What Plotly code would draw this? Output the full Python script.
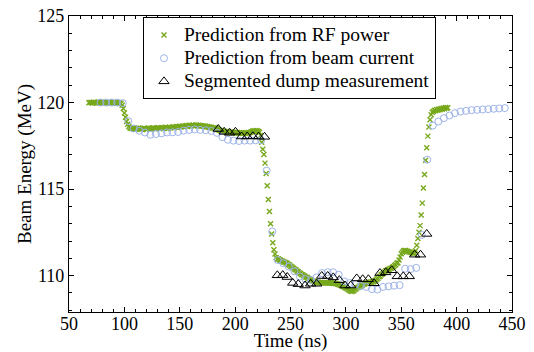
import plotly.graph_objects as go

# ---------------- data ----------------
# Prediction from RF power: one sample per ns, t = 68 .. 391 ns
rf_start = 68
rf_energy = [
    119.99, 120.01,
    120.00, 119.97, 120.02, 119.99, 120.01, 119.96, 120.00, 120.03, 119.98, 120.00,
    119.97, 120.01, 119.99, 120.02, 119.96, 120.00, 119.98, 120.01, 119.97, 119.99,
    120.02, 119.98, 120.00, 119.96, 120.01, 119.99, 119.97,
    119.94, 119.85, 119.65, 119.40, 119.15, 118.90, 118.75, 118.62, 118.55, 118.50,
    118.52, 118.48, 118.50, 118.46, 118.51, 118.47, 118.53, 118.49, 118.45, 118.50,
    118.47, 118.52, 118.48, 118.44, 118.50, 118.53, 118.47, 118.51, 118.49, 118.54,
    118.50, 118.47, 118.53, 118.51, 118.55, 118.49, 118.52, 118.56, 118.50, 118.54,
    118.57, 118.52, 118.55, 118.51, 118.58, 118.54, 118.56, 118.60, 118.55, 118.58,
    118.61, 118.57, 118.60, 118.63, 118.58, 118.62, 118.65, 118.60, 118.64, 118.67,
    118.62, 118.66, 118.69, 118.64, 118.67, 118.70, 118.65, 118.68, 118.71, 118.66,
    118.69, 118.65, 118.68, 118.63, 118.66, 118.61, 118.64, 118.60, 118.62, 118.57,
    118.59, 118.55, 118.57, 118.52, 118.54, 118.49, 118.50, 118.46, 118.43, 118.40,
    118.37, 118.35, 118.32, 118.34, 118.30, 118.33, 118.29, 118.31, 118.27, 118.30,
    118.26, 118.29, 118.25, 118.28, 118.24, 118.27, 118.23, 118.26, 118.22, 118.25,
    118.21, 118.24, 118.22, 118.26, 118.23, 118.27, 118.25, 118.29, 118.32, 118.35,
    118.37, 118.34, 118.38, 118.35, 118.33, 118.28,
    118.10, 117.70, 117.30, 117.00, 116.50, 115.90, 115.20, 114.40, 113.70, 113.00,
    112.40, 111.90, 111.50, 111.25, 111.05, 110.95,
    110.97, 110.92, 110.89, 110.84, 110.83, 110.79, 110.78, 110.73, 110.71, 110.64,
    110.61, 110.55, 110.51, 110.45, 110.42, 110.35, 110.32, 110.25, 110.22, 110.16,
    110.13, 110.07, 110.05, 109.99, 109.97, 109.91, 109.89, 109.83, 109.81, 109.75,
    109.73, 109.68, 109.68, 109.64, 109.64, 109.61, 109.62, 109.59, 109.61, 109.58,
    109.61, 109.57, 109.60, 109.57, 109.58, 109.59, 109.56, 109.59, 109.57, 109.58,
    109.55, 109.56, 109.53, 109.53, 109.49, 109.49, 109.44, 109.43, 109.38, 109.37,
    109.31, 109.29, 109.25, 109.21, 109.16, 109.13, 109.09, 109.11, 109.12, 109.19,
    109.23, 109.30, 109.32, 109.38, 109.40, 109.45, 109.46, 109.51, 109.52, 109.57,
    109.57, 109.61, 109.60, 109.63, 109.62, 109.66, 109.65, 109.69, 109.73, 109.81,
    109.85, 109.93, 109.97, 110.05, 110.09, 110.17, 110.21, 110.28, 110.30, 110.36,
    110.37, 110.42, 110.43, 110.49, 110.52, 110.59, 110.63, 110.71, 110.75, 110.91,
    111.07, 111.26, 111.35, 111.43, 111.45, 111.46, 111.41, 111.41, 111.36, 111.36,
    111.32, 111.32, 111.28, 111.31, 111.44, 111.76, 112.14, 112.51, 112.89, 113.51,
    114.19, 115.06, 115.84, 116.66, 117.39, 118.06, 118.59, 119.00, 119.30, 119.44,
    119.49, 119.55, 119.52, 119.60, 119.56, 119.63, 119.58, 119.66, 119.61, 119.68,
    119.64, 119.71, 119.67, 119.70,
]
rf_time = [rf_start + i for i in range(len(rf_energy))]

# Prediction from beam current: one sample every 5 ns
beam_time = [
    78.5, 83.5, 88.5, 93.5, 98.5, 103.5, 108.5, 113.5, 118.5, 123.5,
    128.5, 133.5, 138.5, 143.5, 148.5, 153.5, 158.5, 163.5, 168.5, 173.5,
    178.5, 183.5, 188.5, 193.5, 198.5, 203.5, 208.5, 213.5, 218.5, 223.5,
    228.5, 233.5, 238.5, 243.5, 248.5, 253.5, 258.5, 263.5, 268.5, 273.5,
    278.5, 283.5, 288.5, 293.5, 298.5, 303.5, 308.5, 313.5, 318.5, 323.5,
    328.5, 333.5, 338.5, 343.5, 348.5, 353.5, 358.5, 363.5, 368.5, 373.5,
    378.5, 383.5, 388.5, 393.5, 398.5, 403.5, 408.5, 413.5, 418.5, 423.5,
    428.5, 433.5, 438.5, 443.5,
]
beam_energy = [
    120.00, 120.00, 120.00, 120.00, 119.97, 118.93, 118.50, 118.37, 118.27, 118.14,
    118.18, 118.22, 118.27, 118.28, 118.30, 118.38, 118.42, 118.45, 118.42, 118.40,
    118.36, 118.25, 118.00, 117.85, 117.80, 117.78, 117.80, 117.80, 117.82, 117.82,
    116.07, 112.55, 110.90, 110.72, 110.52, 110.25, 109.95, 109.80, 109.75, 109.90,
    110.15, 110.20, 110.20, 110.05, 109.67, 109.57, 109.50, 109.40, 109.35, 109.22,
    109.20, 109.35, 109.38, 109.42, 109.45, 110.40, 110.38, 110.45, 112.35, 116.70,
    118.67, 118.90, 119.10, 119.25, 119.39, 119.48, 119.52, 119.56, 119.58, 119.60,
    119.62, 119.64, 119.66, 119.68,
]

# Segmented dump measurement
dump_time = [
    184.8, 190.1, 195.0, 200.3, 205.8, 210.9, 216.0, 221.2, 226.6,
    238.1, 243.0, 247.1, 252.0, 257.0, 263.1, 268.2, 273.7, 278.2, 283.6,
    288.6, 294.1, 299.2, 304.4, 309.8, 315.2, 320.3, 325.4, 330.8, 336.0,
    341.4, 346.4, 351.8, 357.3, 362.1, 367.4, 373.0,
]
dump_energy = [
    118.47, 118.31, 118.25, 118.31, 118.04, 118.04, 118.05, 118.03, 118.02,
    110.02, 110.03, 109.92, 109.58, 109.51, 109.43, 109.53, 109.53, 109.98, 109.98,
    109.90, 109.74, 109.43, 109.43, 109.84, 109.79, 109.79, 109.56, 110.15, 110.19,
    110.31, 109.96, 109.96, 109.96, 111.21, 111.21, 112.41,
]

series_names = [
    "Prediction from RF power",
    "Prediction from beam current",
    "Segmented dump measurement",
]
x_title = "Time (ns)"
y_title = "Beam Energy (MeV)"

FONT = "Liberation Serif"
GREEN = "#77a81c"
BLUE = "#9db3e8"


def legend_label(s):
    # legend text drawn larger while rows are spaced for a smaller font
    return '<span style="font-size:19.5px">' + s + "</span>"


fig = go.Figure()
fig.add_trace(go.Scatter(
    x=rf_time, y=rf_energy, mode="markers", name=legend_label(series_names[0]),
    marker=dict(symbol="x-thin", size=5, color=GREEN,
                line=dict(color=GREEN, width=1.4)),
))
fig.add_trace(go.Scatter(
    x=beam_time, y=beam_energy, mode="markers", name=legend_label(series_names[1]),
    marker=dict(symbol="circle-open", size=7, color=BLUE,
                line=dict(color=BLUE, width=1)),
))
fig.add_trace(go.Scatter(
    x=dump_time, y=dump_energy, mode="markers", name=legend_label(series_names[2]),
    marker=dict(symbol="triangle-up-open", size=9, color="black",
                line=dict(color="black", width=1)),
))

axis_common = dict(
    showline=True, linecolor="black", linewidth=1.3, mirror="allticks",
    ticks="inside", ticklen=5, tickwidth=1, tickcolor="black",
    showgrid=False, zeroline=False, automargin=False,
)
fig.update_xaxes(
    range=[50, 450], dtick=50, tick0=50,
    minor=dict(dtick=10, ticks="inside", ticklen=3, tickcolor="black", showgrid=False),
    tickfont=dict(family=FONT, size=18, color="black"),
    ticklabelstandoff=-5,
    title=dict(text=x_title, font=dict(family=FONT, size=19, color="black"), standoff=6),
    **axis_common,
)
fig.update_yaxes(
    range=[107.9, 125], dtick=5, tick0=110,
    minor=dict(dtick=1, ticks="inside", ticklen=3, tickcolor="black", showgrid=False),
    tickfont=dict(family=FONT, size=18, color="black"),
    title=dict(text=y_title, font=dict(family=FONT, size=19, color="black"), standoff=0),
    **axis_common,
)

fig.update_layout(
    width=534, height=352,
    margin=dict(l=69, r=22, t=16, b=40),
    paper_bgcolor="white", plot_bgcolor="white",
    font=dict(family=FONT, size=19, color="black"),
    showlegend=True,
    legend=dict(
        x=0.167, y=0.995, xanchor="left", yanchor="top",
        bordercolor="black", borderwidth=1, bgcolor="white",
        font=dict(family=FONT, size=15.5, color="black"),
        itemwidth=30, tracegroupgap=0,
    ),
)

fig.write_html("out.html")
